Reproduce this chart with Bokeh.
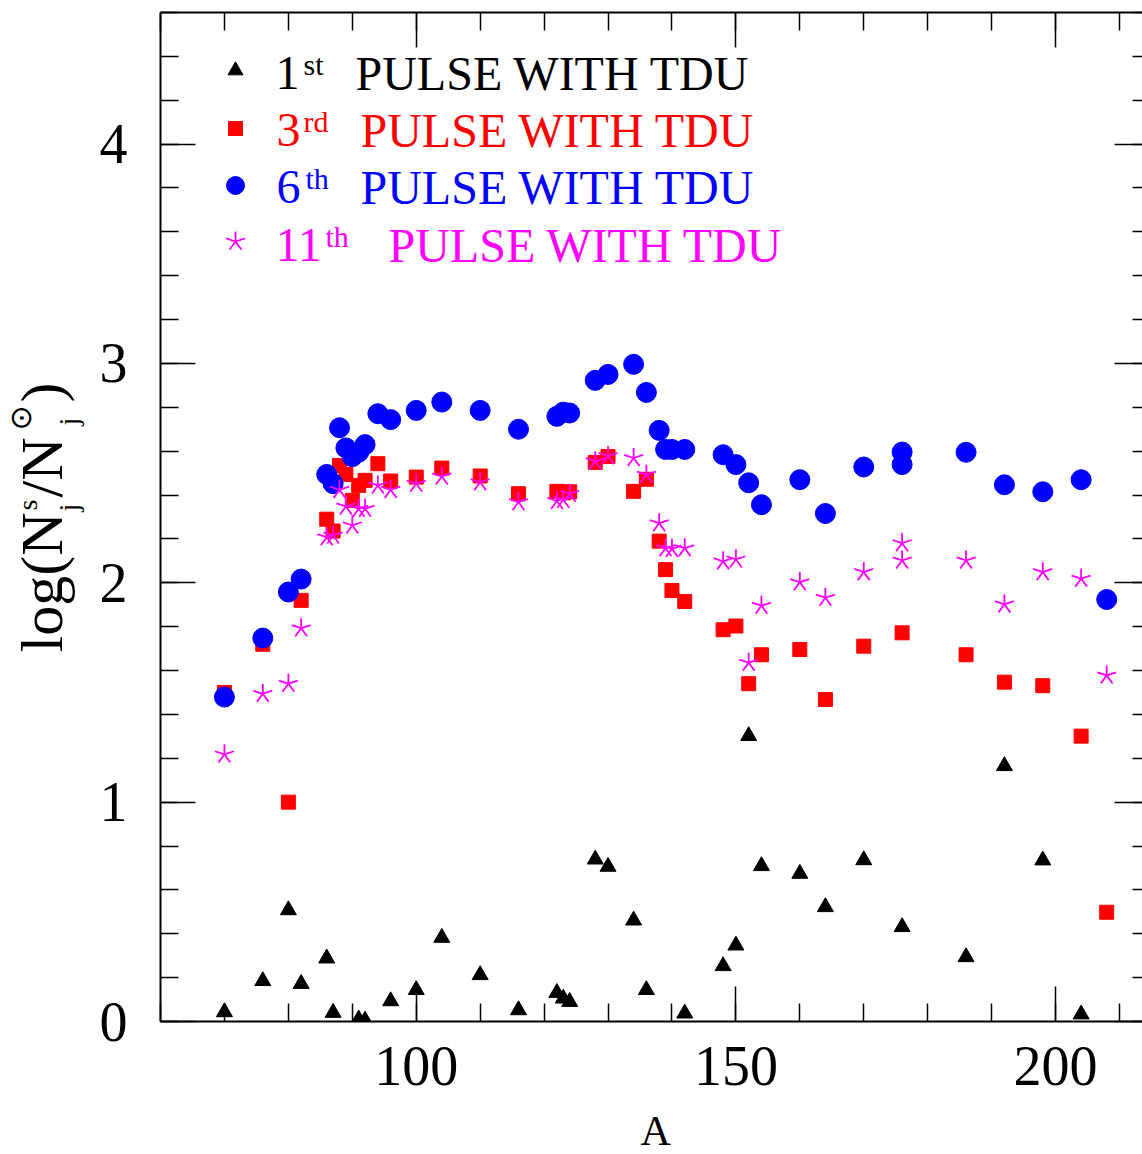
import math
from bokeh.plotting import figure
from bokeh.layouts import row, column
from bokeh.models import (Label, LinearAxis, SingleIntervalTicker,
                          CustomJSTickFormatter, Range1d)
from bokeh.embed import file_html
from bokeh.resources import INLINE

# ---- s-process overabundances, log(N_j^s / N_j^sun), vs mass number A ----
a_1st = [70, 76, 80, 82, 86, 87, 91, 92, 96, 100, 104, 110, 116, 122, 123, 124,
         128, 130, 134, 136, 142, 148, 150, 152, 154, 160, 164, 170, 176, 186,
         192, 198, 204]
v_1st = [0.043, 0.185, 0.508, 0.172, 0.288, 0.040, 0.010, 0.005, 0.093, 0.144,
         0.382, 0.212, 0.052, 0.131, 0.105, 0.090, 0.739, 0.706, 0.461, 0.144,
         0.037, 0.253, 0.347, 1.302, 0.709, 0.674, 0.522, 0.736, 0.431, 0.294,
         1.165, 0.735, 0.033]

a_3rd = [70, 76, 80, 82, 86, 87, 88, 89, 90, 91, 92, 94, 96, 100, 104, 110, 116,
         122, 123, 124, 128, 130, 134, 136, 138, 139, 140, 142, 148, 150, 152,
         154, 160, 164, 170, 176, 186, 192, 198, 204, 208]
v_3rd = [1.50, 1.72, 1.00, 1.92, 2.29, 2.236, 2.535, 2.494, 2.376, 2.444, 2.467,
         2.543, 2.464, 2.482, 2.523, 2.487, 2.406, 2.417, 2.41, 2.415, 2.549,
         2.576, 2.417, 2.472, 2.190, 2.060, 1.965, 1.915, 1.786, 1.803, 1.540,
         1.672, 1.696, 1.468, 1.711, 1.772, 1.672, 1.547, 1.531, 1.301, 0.498]

a_6th = [70, 76, 80, 82, 86, 87, 88, 89, 90, 91, 92, 94, 96, 100, 104, 110, 116,
         122, 123, 124, 128, 130, 134, 136, 138, 139, 140, 142, 148, 150, 152,
         154, 160, 164, 170, 176, 176, 186, 192, 198, 204, 208]
v_6th = [1.479, 1.748, 1.958, 2.017, 2.494, 2.452, 2.707, 2.615, 2.575, 2.595,
         2.630, 2.771, 2.744, 2.786, 2.824, 2.786, 2.700, 2.759, 2.778, 2.774,
         2.923, 2.950, 2.996, 2.868, 2.695, 2.608, 2.608, 2.608, 2.584, 2.539,
         2.456, 2.356, 2.470, 2.316, 2.528, 2.596, 2.539, 2.595, 2.447, 2.415,
         2.470, 1.924]

a_11th = [70, 76, 80, 82, 86, 87, 88, 89, 90, 91, 92, 94, 96, 100, 104, 110, 116,
          122, 123, 124, 128, 130, 134, 136, 138, 139, 140, 142, 148, 150, 152,
          154, 160, 164, 170, 176, 176, 186, 192, 198, 204, 208]
v_11th = [1.218, 1.494, 1.540, 1.793, 2.208, 2.216, 2.424, 2.348, 2.262, 2.338,
          2.338, 2.444, 2.424, 2.452, 2.485, 2.459, 2.368, 2.373, 2.379, 2.406,
          2.554, 2.578, 2.569, 2.493, 2.272, 2.158, 2.155, 2.158, 2.098, 2.107,
          1.636, 1.896, 2.003, 1.932, 2.049, 2.181, 2.102, 2.102, 1.902, 2.049,
          2.019, 1.578]

series_names = ["1", "3", "6", "11"]
series_sups = ["st", "rd", "th", "th"]
legend_text = "PULSE WITH TDU"

BLACK, RED, BLUE, MAGENTA = "#000000", "#FF0000", "#0000FF", "#FF00FF"
SERIF = "Liberation Serif"
# Label anchors sit this fraction of the font size above the glyph baseline
BASE_SHIFT = 0.36

# ---- page geometry (pixels) ----
PAGE_W, PAGE_H = 1142, 1154
LAB_W = 90                 # strip holding the rotated y title
A_H = 46                   # strip holding the x title
F_LEFT, F_TOP, F_RIGHT, F_BOTTOM = 160, 12, 1142, 1021
X0, X1 = 60.0, 213.6
Y0, Y1 = 0.0, 4.6


def px_x(px):
    return X0 + (px - F_LEFT) * (X1 - X0) / (F_RIGHT - F_LEFT)


def px_y(py):
    return Y1 - (py - F_TOP) * (Y1 - Y0) / (F_BOTTOM - F_TOP)


main_w = PAGE_W - LAB_W
main_h = PAGE_H - A_H
p = figure(width=main_w, height=main_h, x_range=Range1d(X0, X1),
           y_range=Range1d(Y0, Y1), output_backend="svg", toolbar_location=None,
           min_border_left=F_LEFT - LAB_W, min_border_top=F_TOP,
           min_border_right=PAGE_W - F_RIGHT, min_border_bottom=main_h - F_BOTTOM)
p.outline_line_color = None
p.xgrid.visible = False
p.ygrid.visible = False
p.background_fill_color = "white"
p.border_fill_color = "white"

x_ticker = SingleIntervalTicker(interval=50, num_minor_ticks=5)
y_ticker = SingleIntervalTicker(interval=1, num_minor_ticks=5)
blank = CustomJSTickFormatter(code="return ''")


def style_axis(ax, major_in, minor_in, show_labels, line=True):
    ax.major_tick_in = major_in
    ax.major_tick_out = 0
    ax.minor_tick_in = minor_in
    ax.minor_tick_out = 0
    ax.major_tick_line_color = BLACK
    ax.minor_tick_line_color = BLACK
    ax.major_tick_line_width = 1.5
    ax.minor_tick_line_width = 1.5
    ax.axis_line_color = BLACK if line else None
    ax.axis_line_width = 2
    if show_labels:
        ax.major_label_text_font = SERIF
        ax.major_label_text_font_size = "56px"
        ax.major_label_text_color = BLACK
    else:
        ax.formatter = blank
        ax.major_label_text_font_size = "0px"
        ax.major_label_standoff = 0


xb = p.xaxis[0]
xb.ticker = x_ticker
style_axis(xb, 35, 18, True)
xb.major_label_standoff = 25

yl = p.yaxis[0]
yl.ticker = y_ticker
style_axis(yl, 35, 18, True)
yl.major_label_standoff = 33
yl.major_label_orientation = "horizontal"

xt = LinearAxis(ticker=x_ticker)
style_axis(xt, 35, 18, False)
p.add_layout(xt, "above")

yr = LinearAxis(ticker=y_ticker)
style_axis(yr, 28, 10, False, line=False)
p.add_layout(yr, "right")

# ---- data marks ----
p.scatter(a_1st, v_1st, marker="triangle", size=16, color=BLACK)
p.scatter(a_3rd, v_3rd, marker="square", size=14, color=RED)
p.scatter(a_6th, v_6th, marker="circle", size=20, color=BLUE)

STAR_ANGLES = [90, 162, 234, 306, 18]


def star_rays(xs, ys):
    rx, ry, ang = [], [], []
    for x, y in zip(xs, ys):
        for a in STAR_ANGLES:
            rx.append(x)
            ry.append(y)
            ang.append(a)
    return rx, ry, ang


sx, sy, sa = star_rays(a_11th, v_11th)
p.ray(x=sx, y=sy, length=10, length_units="screen", angle=sa, angle_units="deg",
      line_color=MAGENTA, line_width=1.8)

# ---- legend (keys and coloured labels) ----
colors = [BLACK, RED, BLUE, MAGENTA]
key_px_x = 235
key_px_y = [70, 128, 185, 241]
num_px_x = [275, 276, 276, 275]
sup_px_x = [303, 303, 305, 325]
txt_px_x = [355, 360, 360, 388]
base_px_y = [90, 147, 204, 262]
LEG_SIZE, SUP_SIZE = 48, 30

p.scatter([px_x(key_px_x)], [px_y(key_px_y[0])], marker="triangle", size=15, color=BLACK)
p.scatter([px_x(key_px_x)], [px_y(key_px_y[1])], marker="square", size=14, color=RED)
p.scatter([px_x(key_px_x)], [px_y(key_px_y[2])], marker="circle", size=18, color=BLUE)
kx, ky, ka = star_rays([px_x(key_px_x)], [px_y(key_px_y[3])])
p.ray(x=kx, y=ky, length=10, length_units="screen", angle=ka, angle_units="deg",
      line_color=MAGENTA, line_width=1.8)


def text_at(fig, x, y, text, size, color=BLACK, font=SERIF, angle=0.0):
    fig.add_layout(Label(x=x, y=y, text=text, text_font=font,
                         text_font_size=f"{size}px", text_color=color,
                         text_align="left", text_baseline="alphabetic",
                         angle=angle))


for i in range(4):
    b = base_px_y[i]
    text_at(p, px_x(num_px_x[i]), px_y(b - BASE_SHIFT * LEG_SIZE),
            series_names[i], LEG_SIZE, colors[i])
    text_at(p, px_x(sup_px_x[i]), px_y(b - 15 - BASE_SHIFT * SUP_SIZE),
            series_sups[i], SUP_SIZE, colors[i])
    text_at(p, px_x(txt_px_x[i]), px_y(b - BASE_SHIFT * LEG_SIZE),
            legend_text, LEG_SIZE, colors[i])


def strip(width, height, x_span, y_span):
    """A bare figure whose frame fills it, addressed in page pixels."""
    f = figure(width=width, height=height, x_range=Range1d(*x_span),
               y_range=Range1d(*y_span), output_backend="svg",
               toolbar_location=None, x_axis_location=None, y_axis_location=None,
               min_border_left=0, min_border_right=0, min_border_top=0,
               min_border_bottom=0)
    f.outline_line_color = None
    f.xgrid.visible = False
    f.ygrid.visible = False
    f.background_fill_color = "white"
    f.border_fill_color = "white"
    return f


# y title: log(N_j^s / N_j^sun), set piece by piece along the rotated baseline
ylab = strip(LAB_W, PAGE_H, (0, LAB_W), (PAGE_H, 0))
ylabel_pieces = [
    # text, baseline x, start y, size, font
    ("log(N", 63, 652, 60, SERIF),
    ("s", 37, 510, 28, SERIF),
    ("j", 78, 511, 28, SERIF),
    ("/N", 63, 497, 60, SERIF),
    ("\u2299", 31, 430, 30, "DejaVu Sans"),
    ("j", 78, 425, 28, SERIF),
    (")", 63, 402, 60, SERIF),
]
for text, bx, by, size, font in ylabel_pieces:
    text_at(ylab, bx - BASE_SHIFT * size, by, text, size, font=font, angle=math.pi / 2)

# x title; the strip's frame lines up under the main frame (x from F_LEFT)
A_SIZE = 42
xlab = strip(main_w, A_H, (F_LEFT, F_RIGHT), (PAGE_H, main_h))
text_at(xlab, 640, 1146 - BASE_SHIFT * A_SIZE, "A", A_SIZE)

layout = row(ylab, column(p, xlab, spacing=0), spacing=0)
open("out.html", "w").write(file_html(layout, INLINE))
